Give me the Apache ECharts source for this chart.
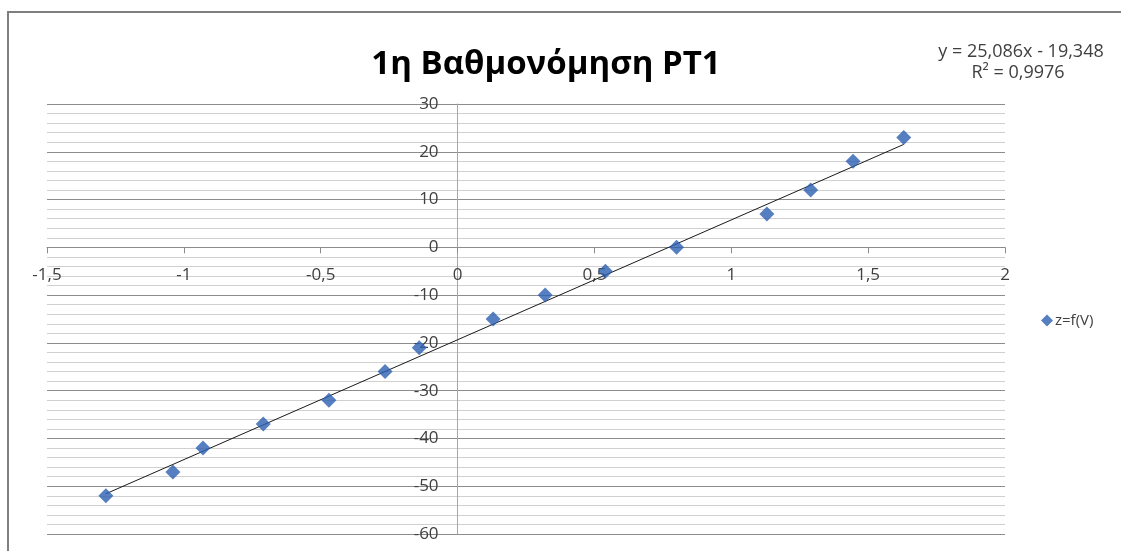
<!DOCTYPE html>
<html>
<head>
<meta charset="utf-8">
<script src="https://cdn.jsdelivr.net/npm/echarts@6/dist/echarts.min.js"></script>
<style>
html,body{margin:0;padding:0;background:#fff;}
#c{width:1121px;height:551px;}
</style>
</head>
<body>
<div id="c"></div>
<script>
// Data
const xValues = [1.63, 1.445, 1.29, 1.13, 0.80, 0.54, 0.32, 0.13, -0.14, -0.265, -0.47, -0.71, -0.93, -1.04, -1.285];
const zValues = [23, 18, 12, 7, 0, -5, -10, -15, -21, -26, -32, -37, -42, -47, -52];
const seriesName = 'z=f(V)';
const chartTitle = '1η Βαθμονόμηση PT1';
const trendSlope = 25.086;
const trendIntercept = -19.348;
const trendEqText = 'y = 25,086x - 19,348';
const trendR2Text = 'R² = 0,9976';
const xAxisMin = -1.5, xAxisMax = 2, xAxisStep = 0.5;
const yAxisMin = -60, yAxisMax = 30, yAxisStep = 10;

const points = xValues.map((x, i) => [x, zValues[i]]);
const xmin = Math.min(...xValues), xmax = Math.max(...xValues);
const trendPoints = [xmin, xmax].map(x => [x, trendSlope * x + trendIntercept]);

const W = 1121, H = 551;
const gridL = 47, gridR = 116, gridT = 104, gridB = 17;
const gridW = W - gridL - gridR, gridH = H - gridT - gridB;
// place axes where the other axis crosses zero (axes cross at 0)
const xAxisOffset = -((0 - yAxisMin) / (yAxisMax - yAxisMin)) * gridH;
const yAxisOffset = -((0 - xAxisMin) / (xAxisMax - xAxisMin)) * gridW;

const fontFam = '"Open Sans", "Noto Sans", sans-serif';
const chart = echarts.init(document.getElementById('c'), null, {renderer: 'canvas'});
chart.setOption({
  animation: false,
  backgroundColor: '#fff',
  title: {
    text: chartTitle,
    left: 541, top: 43, textAlign: 'center',
    textStyle: {fontFamily: fontFam, fontSize: 33, fontWeight: 'bold', color: '#000'}
  },
  graphic: [
    {type: 'rect', shape: {x: 8, y: 12, width: 1300, height: 800}, style: {fill: null, stroke: '#7f7f7f', lineWidth: 2}, silent: true, z: -1},
    {type: 'text', x: 1021, y: 52, style: {text: trendEqText, textAlign: 'center', textVerticalAlign: 'middle', verticalAlign: 'middle', font: '18px ' + fontFam, fill: '#404040'}},
    {type: 'text', x: 1018, y: 73, style: {text: trendR2Text, textAlign: 'center', textVerticalAlign: 'middle', verticalAlign: 'middle', font: '18px ' + fontFam, fill: '#404040'}}
  ],
  legend: {
    data: [{name: seriesName, icon: 'diamond'}],
    left: 1036, top: 308,
    itemWidth: 12, itemHeight: 12, itemGap: 4,
    textStyle: {fontFamily: fontFam, fontSize: 15, color: '#404040', padding: [0,0,0,-3]}
  },
  grid: {left: gridL, right: gridR, top: gridT, bottom: gridB, containLabel: false},
  xAxis: {
    type: 'value', min: xAxisMin, max: xAxisMax, interval: xAxisStep,
    offset: xAxisOffset,
    axisLine: {onZero: false, lineStyle: {color: '#8c8c8c', width: 1}},
    axisTick: {show: true, length: 6, inside: false, lineStyle: {color: '#8c8c8c'}},
    axisLabel: {fontFamily: fontFam, fontSize: 17, color: '#404040', margin: 19,
      formatter: v => String(v).replace('.', ',')},
    splitLine: {show: false}
  },
  yAxis: {
    type: 'value', min: yAxisMin, max: yAxisMax, interval: yAxisStep,
    offset: yAxisOffset,
    axisLine: {show: true, onZero: false, lineStyle: {color: '#a6a6a6', width: 1}},
    axisTick: {show: false},
    axisLabel: {fontFamily: fontFam, fontSize: 17, color: '#404040', margin: 19,
      formatter: v => String(v)},
    splitLine: {show: true, lineStyle: {color: '#8c8c8c', width: 1.2}},
    minorTick: {show: false, splitNumber: 5},
    minorSplitLine: {show: true, lineStyle: {color: '#d0d0d0', width: 1}}
  },
  series: [
    {
      name: 'trend', type: 'line', data: trendPoints, symbol: 'none',
      lineStyle: {color: '#1a1a1a', width: 1}, z: 3, silent: true
    },
    {
      name: seriesName, type: 'scatter', data: points,
      symbol: 'diamond', symbolSize: 15,
      itemStyle: {color: '#2a5fb0'}, z: 4
    }
  ]
});
</script>
</body>
</html>
